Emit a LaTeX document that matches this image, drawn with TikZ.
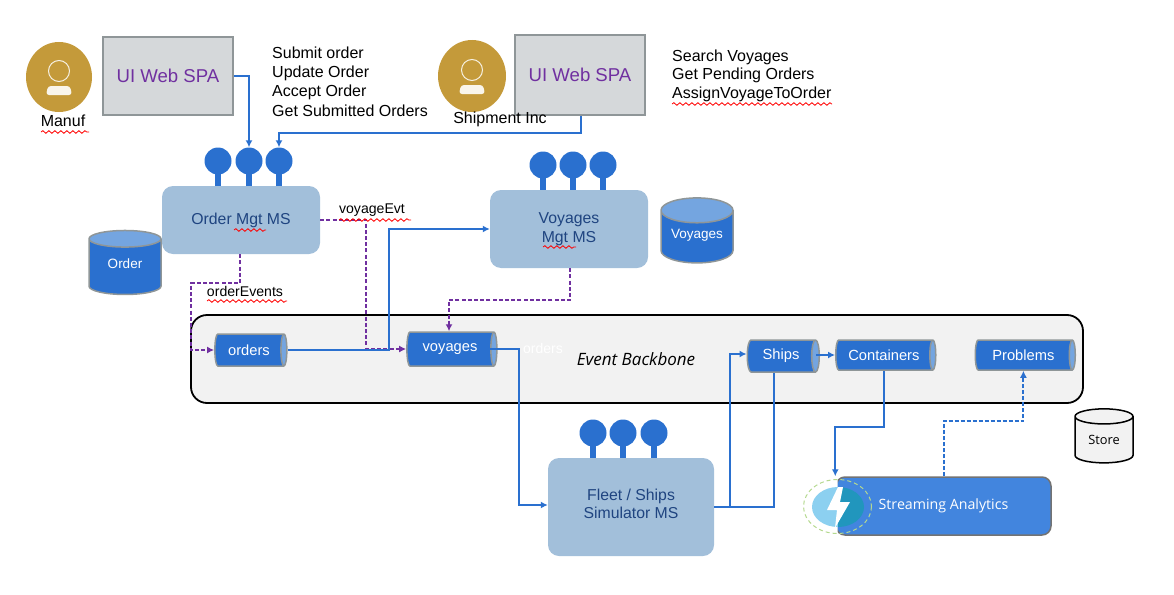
\documentclass[tikz,border=0pt]{standalone}
\usepackage{fontspec}
\setmainfont{Liberation Sans}
\newfontfamily\humfont{Open Sans}
\usepackage{xcolor}
\usetikzlibrary{positioning,arrows.meta,shapes.geometric,decorations.pathmorphing}
\definecolor{FlowBlue}{HTML}{2A70CF}
\definecolor{CapBlue}{HTML}{74A5E0}
\definecolor{MsBlue}{HTML}{A2BFDA}
\definecolor{MsText}{HTML}{1F4480}
\definecolor{EvtPurple}{HTML}{7030A0}
\definecolor{UserGold}{HTML}{C49A3A}
\definecolor{UiGray}{HTML}{D5D8DA}
\definecolor{EdgeGray}{HTML}{8F9698}
\definecolor{StreamBlue}{HTML}{4285DE}
\definecolor{BoltSky}{HTML}{8CD0F0}
\definecolor{BoltTeal}{HTML}{2196BD}
\definecolor{RingGreen}{HTML}{B5D98F}
\newcommand{\fsize}[1]{\fontsize{#1}{#1}\selectfont}

\begin{document}
\begin{tikzpicture}[x=1pt, y=-1pt,
        ms/.style={rectangle, fill=MsBlue, rounded corners=11pt, text=MsText, align=center, font=\fsize{15.8}, inner sep=0pt},
        uibox/.style={rectangle, draw=EdgeGray, line width=1.5pt, fill=UiGray, minimum width=130pt, text=EvtPurple, font=\fsize{18.6}, inner sep=0pt},
        user/.style={ellipse, fill=UserGold, inner sep=0pt},
        lolli/.style={circle, fill=FlowBlue, minimum size=27pt, inner sep=0pt},
        stem/.style={draw=FlowBlue, line width=5.5pt},
        dbase/.style={cylinder, shape border rotate=90, aspect=0.48, draw=EdgeGray, line width=1.5pt, cylinder uses custom fill, cylinder body fill=FlowBlue, cylinder end fill=CapBlue, text=white, font=\fsize{13.5}, text depth=7pt, inner sep=0pt},
        topic/.style={cylinder, aspect=0.55, draw=EdgeGray, line width=1.5pt, cylinder uses custom fill, cylinder body fill=FlowBlue, cylinder end fill=CapBlue, text=white, font=\fsize{14.7}, inner sep=0pt},
        flow/.style={draw=FlowBlue, line width=2pt},
        arrow/.style={flow, -{Latex[length=7pt,width=7pt]}},
        evt/.style={draw=EvtPurple, line width=2pt, dash pattern=on 4pt off 2.2pt, -{Latex[length=7pt,width=7pt]}},
        txt/.style={font=\fsize{16}, inner sep=0pt, align=left},
        spell/.style={draw=red, line width=0.8pt, decorate, decoration={snake, amplitude=1.3pt, segment length=6pt}}
    ]
        \useasboundingbox (0,0) rectangle (1174,594);

        % Event backbone band
        \node [rectangle, draw=black, line width=1.8pt, fill=black!5, rounded corners=16pt, minimum width=892pt, minimum height=88pt, inner sep=0pt] (backbone) at (637,359) {};
        \node [font=\humfont\itshape\fsize{17}, inner sep=0pt] (bbname) at (636,359) {Event Backbone};
        \node [font=\fsize{14}, text=white, inner sep=0pt] (ghost) at (543,348) {orders};

        % Users and their UIs
        \node [user, minimum width=66pt, minimum height=70pt] (manuf) at (59,77) {};
        \node [uibox, minimum height=78pt] (ui1) at (168,76) {UI Web SPA};
        \node [txt] (manuflbl) at (63,121) {Manuf};
        \node [user, minimum width=68pt, minimum height=72pt] (shipper) at (472,76) {};
        \node [uibox, minimum height=80pt] (ui2) at (580,75) {UI Web SPA};
        \node [txt] (shipperlbl) at (500,119) {Shipment Inc};
        \foreach \u in {manuf,shipper} {
            \draw [draw=white!85!UserGold, line width=1pt] ([yshift=6pt]\u.center) circle (10.5pt);
            \fill [white!90!UserGold, rounded corners=3pt] ([shift={(-13pt,-18pt)}]\u.center) -- ([shift={(-11pt,-9pt)}]\u.center) -- ([shift={(11pt,-9pt)}]\u.center) -- ([shift={(13pt,-18pt)}]\u.center) -- cycle;
        }

        % Operations
        \node [txt, anchor=north west] (ops1) at (272,47) {Submit order\\[3pt]Update Order\\[3pt]Accept Order\\[4pt]Get Submitted Orders};
        \node [txt, anchor=north west] (ops2) at (672,50) {Search Voyages\\[2pt]Get Pending Orders\\[3pt]AssignVoyageToOrder};

        % Microservices
        \node [ms, minimum width=158pt, minimum height=68pt] (orderms) at (241,220) {Order Mgt MS};
        \node [ms, minimum width=158pt, minimum height=78pt] (voyagems) at (569,229) {Voyages\\[3.5pt]Mgt MS};
        \node [ms, minimum width=166pt, minimum height=98pt, text depth=6pt] (fleetms) at (631,507) {Fleet / Ships\\[2pt]Simulator MS};

        % Lollipops
        \foreach \n/\x in {1/218,2/249,3/279} {
            \node [lolli] (ol\n) at (\x,161) {};
            \draw [stem] (ol\n.center) -- (\x,186);
        }
        \foreach \n/\x in {1/543,2/573,3/603} {
            \node [lolli] (vl\n) at (\x,165) {};
            \draw [stem] (vl\n.center) -- (\x,190);
        }
        \foreach \n/\x in {1/593,2/623,3/654} {
            \node [lolli] (fl\n) at (\x,433) {};
            \draw [stem] (fl\n.center) -- (\x,458);
        }

        % Stores
        \node [dbase, minimum width=72pt, minimum height=64pt] (orderdb) at (125,267) {Order};
        \node [dbase, minimum width=72pt, minimum height=65pt] (voyagedb) at (697,237) {Voyages};
        \node [cylinder, shape border rotate=90, aspect=0.48, draw=black, line width=1.5pt, fill=black!5, minimum width=58pt, minimum height=54pt, font=\humfont\fsize{12.8}, inner sep=0pt] (store) at (1104,440) {Store};

        % Topics
        \node [topic, minimum height=72pt, minimum width=32pt] (orders) at (249,350) {orders};
        \node [topic, minimum height=90pt, minimum width=34pt] (voyages) at (450,349) {voyages};
        \node [topic, minimum height=72pt, minimum width=32pt] (ships) at (781,356) {Ships};
        \node [topic, minimum height=100pt, minimum width=30pt, right=15pt of ships, yshift=1pt] (containers) {Containers};
        \node [topic, minimum height=100pt, minimum width=30pt, right=38pt of containers] (problems) {Problems};

        % Streaming analytics
        \node [rectangle, draw=black!55, line width=1.5pt, fill=StreamBlue, rounded corners=9pt, minimum width=215pt, minimum height=58pt, text=white, font=\humfont\fsize{14.2}, inner sep=0pt] (stream) at (943.5,506) {Streaming Analytics};
        \coordinate (icon) at (837.5,506.5);
        \fill [white] (icon) ++(0,-27) arc [start angle=90, end angle=270, x radius=34, y radius=-27] -- cycle;
        \fill [BoltSky] (838,487) arc [start angle=90, end angle=270, x radius=26, y radius=-20] -- cycle;
        \fill [BoltTeal] (838,487) arc [start angle=90, end angle=-90, x radius=26, y radius=-20] -- cycle;
        \fill [white] (838,487) -- (827,510) -- (837,510) -- (835,528) -- (850,502) -- (840,502) -- (843,487) -- cycle;
        \draw [RingGreen, line width=1pt, dash pattern=on 4pt off 3pt] (icon) ellipse [x radius=34, y radius=27];

        % Connectors
        \draw [arrow] (ui1.east) -| (ol2.north);
        \draw [arrow] ([xshift=1pt]ui2.south) -- ++(0,17) -| (ol3.north);
        \draw [evt] ([xshift=-1pt]orderms.south) -- ++(0,29) -- ++(-49,0) |- (orders.west);
        \draw [evt] (orderms.east) -- ++(46,0) |- (voyages.west);
        \draw [arrow] (orders.east) -| (389,229) -- (voyagems.west);
        \draw [evt] ([xshift=1pt]voyagems.south) -- ++(0,32) -| ([xshift=-1pt]voyages.north);
        \draw [arrow] ([xshift=-8pt]voyages.east) -| ([shift={(-29pt,2pt)}]fleetms.west) -- ([yshift=2pt]fleetms.west);
        \draw [arrow] (fleetms.east) -| ([shift={(-17pt,2pt)}]ships.west) -- ([yshift=2pt]ships.west);
        \draw [flow] (fleetms.east) -| ([xshift=-7pt]ships.south);
        \draw [arrow] ([xshift=-4pt,yshift=1pt]ships.east) -- (containers.west);
        \draw [arrow] (containers.south) -- ++(0,56) -| (stream.north west);
        \draw [draw=FlowBlue, line width=2pt, dash pattern=on 4pt off 2pt, -{Latex[length=7pt,width=7pt]}] (stream.north) -- ++(0,-55) -| (problems.south);

        % Connector labels
        \node [font=\fsize{14.1}, inner sep=0pt] (evtlbl1) at (372,210) {voyageEvt};
        \node [font=\fsize{14.1}, inner sep=0pt] (evtlbl2) at (245,291) {orderEvents};

        % Spell-check marks
        \foreach \xa/\xb/\yy in {41/89/132, 234/266/230, 339/411/220, 207/287/301, 672/832/104, 543/576/247} {
            \draw [spell] (\xa,\yy) -- (\xb,\yy);
        }
    \end{tikzpicture}
\end{document}
